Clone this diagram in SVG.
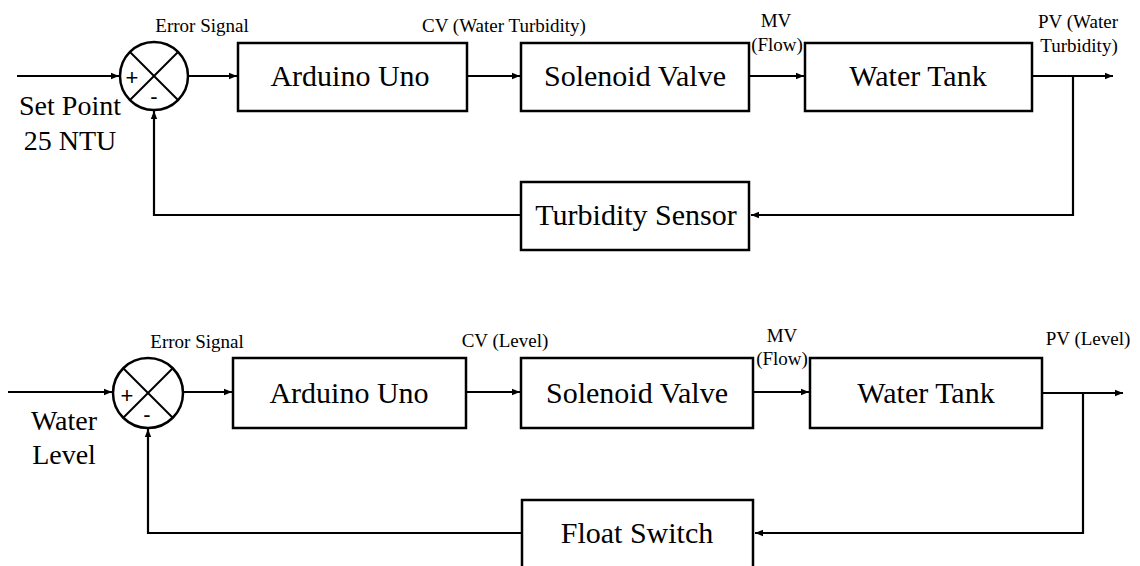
<svg xmlns="http://www.w3.org/2000/svg" width="1140" height="566" viewBox="0 0 1140 566">
<style>
  .box{fill:#fff;stroke:#000;stroke-width:2.5}
  .sum{fill:#fff;stroke:#000;stroke-width:2.5}
  .x{stroke:#000;stroke-width:2}
  .ln{fill:none;stroke:#000;stroke-width:2.2}
  text{font-family:'Liberation Serif','Times New Roman','DejaVu Serif',serif;fill:#000;text-anchor:middle}
  .big{font-size:30px}
  .lbl{font-size:19px}
  .in{font-size:28px}
  .sign{font-family:'Liberation Sans',Arial,sans-serif;font-size:22px}
</style>
<defs>
  <marker id="ah" markerWidth="9" markerHeight="8" refX="8" refY="4" orient="auto" markerUnits="userSpaceOnUse">
    <path d="M0,0.8 L8,4 L0,7.2 Z" fill="#000"/>
  </marker>
</defs>
<rect width="1140" height="566" fill="#fff"/>

<g id="connectors">
  <path class="ln" d="M17,76 L119,76" marker-end="url(#ah)"/>
  <path class="ln" d="M188,76 L237,76" marker-end="url(#ah)"/>
  <path class="ln" d="M467,76 L520,76" marker-end="url(#ah)"/>
  <path class="ln" d="M749,76 L804,76" marker-end="url(#ah)"/>
  <path class="ln" d="M1032,76 L1113,76" marker-end="url(#ah)"/>
  <path class="ln" d="M1073,76 L1073,215 L751,215" marker-end="url(#ah)"/>
  <path class="ln" d="M521,215 L154,215 L154,111" marker-end="url(#ah)"/>
  <path class="ln" d="M8,392 L112,392" marker-end="url(#ah)"/>
  <path class="ln" d="M183,392 L232,392" marker-end="url(#ah)"/>
  <path class="ln" d="M466,392 L520,392" marker-end="url(#ah)"/>
  <path class="ln" d="M753,392 L809,392" marker-end="url(#ah)"/>
  <path class="ln" d="M1042,393 L1123,393" marker-end="url(#ah)"/>
  <path class="ln" d="M1083,393 L1083,533 L755,533" marker-end="url(#ah)"/>
  <path class="ln" d="M522,533 L148,533 L148,429" marker-end="url(#ah)"/>
</g>

<g id="sum1">
  <circle class="sum" cx="154" cy="76" r="34"/>
  <line class="x" x1="130" y1="52" x2="178" y2="100"/>
  <line class="x" x1="178" y1="52" x2="130" y2="100"/>
  <text class="sign" x="132" y="85">+</text>
  <text class="sign" x="154" y="104">-</text>
</g>
<g id="arduino1">
  <rect class="box" x="238" y="43" width="229" height="68"/>
  <text class="big" x="350" y="86">Arduino Uno</text>
</g>
<g id="valve1">
  <rect class="box" x="521" y="43" width="228" height="68"/>
  <text class="big" x="635" y="86">Solenoid Valve</text>
</g>
<g id="tank1">
  <rect class="box" x="805" y="43" width="227" height="68"/>
  <text class="big" x="918" y="86">Water Tank</text>
</g>
<g id="sensor1">
  <rect class="box" x="521" y="182" width="228" height="68"/>
  <text class="big" x="636" y="225">Turbidity Sensor</text>
</g>
<g id="labels1">
  <text class="in" x="70" y="115">Set Point</text>
  <text class="in" x="70" y="150">25 NTU</text>
  <text class="lbl" x="202" y="32">Error Signal</text>
  <text class="lbl" x="504" y="32">CV (Water Turbidity)</text>
  <text class="lbl" x="776" y="27">MV</text>
  <text class="lbl" x="777" y="51">(Flow)</text>
  <text class="lbl" x="1078" y="28">PV (Water</text>
  <text class="lbl" x="1079" y="52">Turbidity)</text>
</g>

<g id="sum2">
  <circle class="sum" cx="148" cy="393" r="35"/>
  <line class="x" x1="123" y1="368" x2="173" y2="418"/>
  <line class="x" x1="173" y1="368" x2="123" y2="418"/>
  <text class="sign" x="127" y="403">+</text>
  <text class="sign" x="147" y="422">-</text>
</g>
<g id="arduino2">
  <rect class="box" x="233" y="358" width="233" height="70"/>
  <text class="big" x="349" y="403">Arduino Uno</text>
</g>
<g id="valve2">
  <rect class="box" x="521" y="358" width="232" height="70"/>
  <text class="big" x="637" y="403">Solenoid Valve</text>
</g>
<g id="tank2">
  <rect class="box" x="810" y="358" width="232" height="70"/>
  <text class="big" x="926" y="403">Water Tank</text>
</g>
<g id="float2">
  <rect class="box" x="522" y="500" width="231" height="80"/>
  <text class="big" x="637" y="543">Float Switch</text>
</g>
<g id="labels2">
  <text class="in" x="64" y="430">Water</text>
  <text class="in" x="64" y="464">Level</text>
  <text class="lbl" x="197" y="348">Error Signal</text>
  <text class="lbl" x="505" y="347">CV (Level)</text>
  <text class="lbl" x="782" y="342">MV</text>
  <text class="lbl" x="782" y="365">(Flow)</text>
  <text class="lbl" x="1088" y="345">PV (Level)</text>
</g>
</svg>
